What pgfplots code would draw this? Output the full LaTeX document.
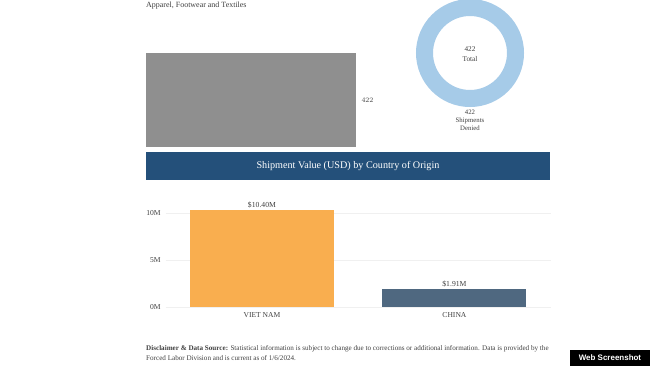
\documentclass[border=0pt]{standalone}
\usepackage{pgfplots}
\pgfplotsset{compat=1.18}
\usepackage{fontspec}
\setmainfont{Liberation Serif}
\newfontfamily\arialfont{Liberation Sans}
\definecolor{barGray}{HTML}{8F8F8F}
\definecolor{donutBlue}{HTML}{A6CBE8}
\definecolor{banner}{HTML}{24507A}
\definecolor{vnOrange}{HTML}{F9AE4F}
\definecolor{cnSlate}{HTML}{4F6880}
\definecolor{txt}{HTML}{404040}
\begin{document}
\begin{tikzpicture}
\path[use as bounding box] (0,0) rectangle (650bp,366bp);
\fill[white] (0,0) rectangle (650bp,366bp);
% title
\node[anchor=base west, inner sep=0, font=\fontsize{8}{9}\selectfont, text=txt] at (146bp,358.5bp) {Apparel, Footwear and Textiles};

% horizontal gray bar
\begin{axis}[at={(146bp,219bp)}, anchor=south west, scale only axis,
  width=210bp, height=94bp, hide axis, xmin=0, xmax=422, ymin=-0.5, ymax=0.5, clip=false]
\addplot[xbar, bar width=94bp, bar shift=0pt, fill=barGray, draw=none,
  nodes near coords, nodes near coords style={anchor=west, xshift=2bp, font=\fontsize{7.4}{8}\selectfont, text=txt}]
  coordinates {(422,0)};
\end{axis}

% donut
\begin{axis}[at={(416bp,259bp)}, anchor=south west, scale only axis,
  width=108bp, height=108bp, hide axis, xmin=-1, xmax=1, ymin=-1, ymax=1, clip=false]
\addplot[only marks, mark=o, mark size=45.5bp, mark options={draw=donutBlue, line width=17bp}] coordinates {(0,0)};
\node[align=center, inner sep=0, font=\fontsize{7.3}{10.5}\selectfont, text=txt] at (axis cs:0,-0.02) {422\\Total};
\node[anchor=north, align=center, inner sep=0, font=\fontsize{6.8}{7.8}\selectfont, text=txt] at (axis cs:0,-1.06) {422\\Shipments\\Denied};
\end{axis}

% banner
\fill[banner] (146bp,186bp) rectangle (550bp,214bp);
\node[text=white, font=\fontsize{10.2}{12}\selectfont] at (348bp,200bp) {Shipment Value (USD) by Country of Origin};

% column chart
\begin{axis}[at={(165.7bp,59.3bp)}, anchor=south west, scale only axis,
  width=385bp, height=102.6bp, xmin=-0.5, xmax=1.5, ymin=0, ymax=11,
  axis line style={draw=none}, major tick length=0pt,
  xtick={0,1}, xticklabels={VIET NAM,CHINA},
  ytick={0,5,10}, yticklabels={0M,5M,10M},
  ymajorgrids, grid style={black!6},
  tick label style={font=\fontsize{7.6}{8}\selectfont, text=txt},
  xticklabel style={yshift=-2.5bp},
  yticklabel style={xshift=-1.5bp},
  point meta=explicit symbolic, nodes near coords,
  nodes near coords style={font=\fontsize{7.7}{8}\selectfont, text=txt, yshift=-1.5bp},
  clip=false]
\addplot[ybar, bar width=144bp, bar shift=0pt, fill=vnOrange, draw=none] coordinates {(0,10.40) [\$10.40M]};
\addplot[ybar, bar width=144bp, bar shift=0pt, fill=cnSlate, draw=none] coordinates {(1,1.91) [\$1.91M]};
\end{axis}

% disclaimer
\node[anchor=base west, inner sep=0, font=\fontsize{7.15}{8}\selectfont, text=txt] at (146bp,16bp)
  {\textbf{Disclaimer \& Data Source:} Statistical information is subject to change due to corrections or additional information. Data is provided by the};
\node[anchor=base west, inner sep=0, font=\fontsize{7.15}{8}\selectfont, text=txt] at (146bp,6bp)
  {Forced Labor Division and is current as of 1/6/2024.};

% badge
\fill[black] (570bp,0) rectangle (650bp,16bp);
\node[text=white, inner sep=0, font=\arialfont\bfseries\fontsize{8}{9}\selectfont] at (610bp,8bp) {Web Screenshot};
\end{tikzpicture}
\end{document}
